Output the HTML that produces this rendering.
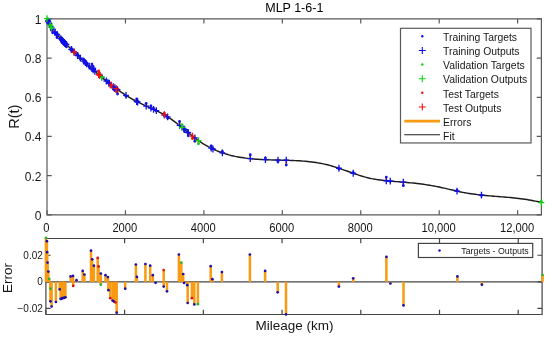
<!DOCTYPE html>
<html><head><meta charset="utf-8"><style>
html,body{margin:0;padding:0;background:#fff;overflow:hidden}
svg{display:block;filter:blur(0.3px)}
text{font-family:"Liberation Sans",sans-serif}
</style></head><body>
<svg width="550" height="337" viewBox="0 0 550 337">
<rect width="550" height="337" fill="#fff"/>
<path d="M47.0,214.85H541.4V18.9H47.0Z" fill="#fff" stroke="#5a5a5a" stroke-width="1.2"/>
<path d="M47.00,214.85v-4.7M47.00,18.9v4.7M125.44,214.85v-4.7M125.44,18.9v4.7M203.88,214.85v-4.7M203.88,18.9v4.7M282.32,214.85v-4.7M282.32,18.9v4.7M360.76,214.85v-4.7M360.76,18.9v4.7M439.20,214.85v-4.7M439.20,18.9v4.7M517.64,214.85v-4.7M517.64,18.9v4.7M47.0,214.85h4.7M541.4,214.85h-4.7M47.0,175.66h4.7M541.4,175.66h-4.7M47.0,136.47h4.7M541.4,136.47h-4.7M47.0,97.28h4.7M541.4,97.28h-4.7M47.0,58.09h4.7M541.4,58.09h-4.7M47.0,18.90h4.7M541.4,18.90h-4.7" stroke="#5a5a5a" stroke-width="1.2" fill="none"/>
<path d="M47.00,18.69 L49.07,23.10 L51.14,26.78 L53.21,29.89 L55.27,32.56 L57.34,34.94 L59.41,37.19 L61.48,39.39 L63.55,41.55 L65.62,43.67 L67.69,45.76 L69.75,47.82 L71.82,49.86 L73.89,51.87 L75.96,53.86 L78.03,55.83 L80.10,57.78 L82.17,59.72 L84.24,61.65 L86.30,63.56 L88.37,65.45 L90.44,67.33 L92.51,69.18 L94.58,71.02 L96.65,72.83 L98.72,74.61 L100.78,76.38 L102.85,78.11 L104.92,79.82 L106.99,81.49 L109.06,83.14 L111.13,84.76 L113.20,86.34 L115.26,87.88 L117.33,89.39 L119.40,90.86 L121.47,92.30 L123.54,93.69 L125.61,95.04 L127.68,96.35 L129.74,97.61 L131.81,98.83 L133.88,100.00 L135.95,101.12 L138.02,102.19 L140.09,103.22 L142.16,104.21 L144.23,105.16 L146.29,106.10 L148.36,107.03 L150.43,107.96 L152.50,108.89 L154.57,109.84 L156.64,110.81 L158.71,111.82 L160.77,112.87 L162.84,113.97 L164.91,115.14 L166.98,116.37 L169.05,117.68 L171.12,119.08 L173.19,120.55 L175.25,122.10 L177.32,123.71 L179.39,125.36 L181.46,127.04 L183.53,128.75 L185.60,130.46 L187.67,132.17 L189.73,133.87 L191.80,135.53 L193.87,137.16 L195.94,138.73 L198.01,140.24 L200.08,141.68 L202.15,143.04 L204.22,144.33 L206.28,145.54 L208.35,146.69 L210.42,147.78 L212.49,148.79 L214.56,149.75 L216.63,150.65 L218.70,151.49 L220.76,152.27 L222.83,153.00 L224.90,153.68 L226.97,154.31 L229.04,154.90 L231.11,155.44 L233.18,155.93 L235.24,156.39 L237.31,156.80 L239.38,157.18 L241.45,157.53 L243.52,157.84 L245.59,158.12 L247.66,158.38 L249.72,158.61 L251.79,158.81 L253.86,158.99 L255.93,159.16 L258.00,159.30 L260.07,159.43 L262.14,159.54 L264.21,159.64 L266.27,159.72 L268.34,159.80 L270.41,159.86 L272.48,159.93 L274.55,159.98 L276.62,160.03 L278.69,160.08 L280.75,160.13 L282.82,160.18 L284.89,160.23 L286.96,160.29 L289.03,160.36 L291.10,160.43 L293.17,160.51 L295.23,160.61 L297.30,160.72 L299.37,160.84 L301.44,160.98 L303.51,161.14 L305.58,161.31 L307.65,161.51 L309.71,161.74 L311.78,161.98 L313.85,162.26 L315.92,162.56 L317.99,162.89 L320.06,163.26 L322.13,163.66 L324.19,164.09 L326.26,164.56 L328.33,165.07 L330.40,165.62 L332.47,166.21 L334.54,166.84 L336.61,167.49 L338.68,168.17 L340.74,168.87 L342.81,169.59 L344.88,170.32 L346.95,171.05 L349.02,171.78 L351.09,172.52 L353.16,173.24 L355.22,173.95 L357.29,174.65 L359.36,175.32 L361.43,175.97 L363.50,176.59 L365.57,177.17 L367.64,177.70 L369.70,178.20 L371.77,178.65 L373.84,179.05 L375.91,179.41 L377.98,179.73 L380.05,180.02 L382.12,180.28 L384.18,180.51 L386.25,180.73 L388.32,180.92 L390.39,181.11 L392.46,181.28 L394.53,181.45 L396.60,181.62 L398.67,181.79 L400.73,181.96 L402.80,182.13 L404.87,182.31 L406.94,182.49 L409.01,182.68 L411.08,182.88 L413.15,183.09 L415.21,183.31 L417.28,183.54 L419.35,183.78 L421.42,184.04 L423.49,184.32 L425.56,184.61 L427.63,184.92 L429.69,185.25 L431.76,185.61 L433.83,185.98 L435.90,186.38 L437.97,186.80 L440.04,187.24 L442.11,187.69 L444.17,188.16 L446.24,188.64 L448.31,189.12 L450.38,189.60 L452.45,190.08 L454.52,190.56 L456.59,191.03 L458.66,191.48 L460.72,191.92 L462.79,192.34 L464.86,192.73 L466.93,193.10 L469.00,193.45 L471.07,193.77 L473.14,194.07 L475.20,194.34 L477.27,194.60 L479.34,194.85 L481.41,195.07 L483.48,195.29 L485.55,195.49 L487.62,195.68 L489.68,195.86 L491.75,196.04 L493.82,196.21 L495.89,196.38 L497.96,196.54 L500.03,196.71 L502.10,196.87 L504.16,197.04 L506.23,197.22 L508.30,197.40 L510.37,197.58 L512.44,197.78 L514.51,197.99 L516.58,198.22 L518.65,198.45 L520.71,198.71 L522.78,198.98 L524.85,199.27 L526.92,199.59 L528.99,199.92 L531.06,200.29 L533.13,200.68 L535.19,201.09 L537.26,201.54 L539.33,202.02 L541.40,202.53" fill="none" stroke="#1c1c1c" stroke-width="1.45"/>
<defs><clipPath id="ct"><rect x="47.0" y="18.9" width="494.4" height="195.95"/></clipPath><clipPath id="cb"><rect x="45.9" y="238.5" width="496.20000000000005" height="76.0"/></clipPath></defs>
<g clip-path="url(#ct)">
<line x1="47.00" y1="18.69" x2="47.00" y2="12.22" stroke="#f89a12" stroke-width="2"/>
<line x1="48.00" y1="20.91" x2="48.00" y2="14.93" stroke="#f89a12" stroke-width="2"/>
<line x1="48.20" y1="21.34" x2="48.20" y2="16.97" stroke="#f89a12" stroke-width="2"/>
<line x1="48.69" y1="22.36" x2="48.69" y2="19.52" stroke="#f89a12" stroke-width="2"/>
<line x1="49.39" y1="23.72" x2="49.39" y2="22.21" stroke="#f89a12" stroke-width="2"/>
<line x1="50.29" y1="25.35" x2="50.29" y2="24.90" stroke="#f89a12" stroke-width="2"/>
<line x1="51.48" y1="27.34" x2="51.48" y2="28.35" stroke="#f89a12" stroke-width="2"/>
<line x1="51.48" y1="27.34" x2="51.48" y2="30.20" stroke="#f89a12" stroke-width="2"/>
<line x1="52.68" y1="29.14" x2="52.68" y2="32.77" stroke="#f89a12" stroke-width="2"/>
<line x1="56.96" y1="34.52" x2="56.96" y2="37.49" stroke="#f89a12" stroke-width="2"/>
<line x1="60.75" y1="38.62" x2="60.75" y2="39.73" stroke="#f89a12" stroke-width="2"/>
<line x1="61.65" y1="39.56" x2="61.65" y2="42.09" stroke="#f89a12" stroke-width="2"/>
<line x1="62.44" y1="40.40" x2="62.44" y2="42.88" stroke="#f89a12" stroke-width="2"/>
<line x1="63.34" y1="41.33" x2="63.34" y2="43.74" stroke="#f89a12" stroke-width="2"/>
<line x1="64.34" y1="42.36" x2="64.34" y2="44.74" stroke="#f89a12" stroke-width="2"/>
<line x1="65.23" y1="43.28" x2="65.23" y2="45.63" stroke="#f89a12" stroke-width="2"/>
<line x1="66.43" y1="44.50" x2="66.43" y2="46.77" stroke="#f89a12" stroke-width="2"/>
<line x1="71.61" y1="49.65" x2="71.61" y2="48.85" stroke="#f89a12" stroke-width="2"/>
<line x1="74.00" y1="51.98" x2="74.00" y2="51.10" stroke="#f89a12" stroke-width="2"/>
<line x1="74.20" y1="52.17" x2="74.20" y2="52.76" stroke="#f89a12" stroke-width="2"/>
<line x1="77.49" y1="55.32" x2="77.49" y2="55.07" stroke="#f89a12" stroke-width="2"/>
<line x1="83.67" y1="61.12" x2="83.67" y2="59.51" stroke="#f89a12" stroke-width="2"/>
<line x1="85.36" y1="62.69" x2="85.36" y2="61.61" stroke="#f89a12" stroke-width="2"/>
<line x1="91.94" y1="68.67" x2="91.94" y2="64.08" stroke="#f89a12" stroke-width="2"/>
<line x1="93.14" y1="69.74" x2="93.14" y2="66.42" stroke="#f89a12" stroke-width="2"/>
<line x1="94.83" y1="71.24" x2="94.83" y2="68.86" stroke="#f89a12" stroke-width="2"/>
<line x1="98.62" y1="74.53" x2="98.62" y2="71.00" stroke="#f89a12" stroke-width="2"/>
<line x1="99.51" y1="75.30" x2="99.51" y2="73.02" stroke="#f89a12" stroke-width="2"/>
<line x1="101.70" y1="77.15" x2="101.70" y2="75.92" stroke="#f89a12" stroke-width="2"/>
<line x1="101.70" y1="77.15" x2="101.70" y2="77.57" stroke="#f89a12" stroke-width="2"/>
<line x1="106.39" y1="81.01" x2="106.39" y2="80.03" stroke="#f89a12" stroke-width="2"/>
<line x1="108.78" y1="82.92" x2="108.78" y2="82.22" stroke="#f89a12" stroke-width="2"/>
<line x1="109.28" y1="83.31" x2="109.28" y2="84.54" stroke="#f89a12" stroke-width="2"/>
<line x1="111.17" y1="84.79" x2="111.17" y2="87.20" stroke="#f89a12" stroke-width="2"/>
<line x1="113.46" y1="86.54" x2="113.46" y2="89.30" stroke="#f89a12" stroke-width="2"/>
<line x1="114.86" y1="87.58" x2="114.86" y2="90.49" stroke="#f89a12" stroke-width="2"/>
<line x1="116.35" y1="88.68" x2="116.35" y2="91.72" stroke="#f89a12" stroke-width="2"/>
<line x1="117.55" y1="89.55" x2="117.55" y2="94.09" stroke="#f89a12" stroke-width="2"/>
<line x1="126.02" y1="95.30" x2="126.02" y2="96.31" stroke="#f89a12" stroke-width="2"/>
<line x1="136.68" y1="101.50" x2="136.68" y2="98.95" stroke="#f89a12" stroke-width="2"/>
<line x1="137.68" y1="102.02" x2="137.68" y2="101.29" stroke="#f89a12" stroke-width="2"/>
<line x1="146.15" y1="106.04" x2="146.15" y2="103.41" stroke="#f89a12" stroke-width="2"/>
<line x1="150.93" y1="108.18" x2="150.93" y2="105.80" stroke="#f89a12" stroke-width="2"/>
<line x1="153.52" y1="109.36" x2="153.52" y2="108.38" stroke="#f89a12" stroke-width="2"/>
<line x1="156.31" y1="110.66" x2="156.31" y2="110.80" stroke="#f89a12" stroke-width="2"/>
<line x1="164.38" y1="114.83" x2="164.38" y2="113.09" stroke="#f89a12" stroke-width="2"/>
<line x1="164.38" y1="114.83" x2="164.38" y2="115.53" stroke="#f89a12" stroke-width="2"/>
<line x1="167.67" y1="116.80" x2="167.67" y2="118.19" stroke="#f89a12" stroke-width="2"/>
<line x1="179.53" y1="125.47" x2="179.53" y2="121.44" stroke="#f89a12" stroke-width="2"/>
<line x1="181.92" y1="127.42" x2="181.92" y2="124.58" stroke="#f89a12" stroke-width="2"/>
<line x1="183.81" y1="128.98" x2="183.81" y2="127.83" stroke="#f89a12" stroke-width="2"/>
<line x1="184.71" y1="129.72" x2="184.71" y2="129.89" stroke="#f89a12" stroke-width="2"/>
<line x1="187.80" y1="132.28" x2="187.80" y2="132.77" stroke="#f89a12" stroke-width="2"/>
<line x1="188.30" y1="132.69" x2="188.30" y2="135.81" stroke="#f89a12" stroke-width="2"/>
<line x1="192.48" y1="136.07" x2="192.48" y2="138.48" stroke="#f89a12" stroke-width="2"/>
<line x1="194.87" y1="137.93" x2="194.87" y2="141.25" stroke="#f89a12" stroke-width="2"/>
<line x1="198.46" y1="140.56" x2="198.46" y2="143.85" stroke="#f89a12" stroke-width="2"/>
<line x1="211.21" y1="148.17" x2="211.21" y2="145.87" stroke="#f89a12" stroke-width="2"/>
<line x1="212.91" y1="148.99" x2="212.91" y2="148.60" stroke="#f89a12" stroke-width="2"/>
<line x1="222.37" y1="152.85" x2="222.37" y2="151.41" stroke="#f89a12" stroke-width="2"/>
<line x1="250.27" y1="158.66" x2="250.27" y2="154.63" stroke="#f89a12" stroke-width="2"/>
<line x1="265.42" y1="159.69" x2="265.42" y2="158.07" stroke="#f89a12" stroke-width="2"/>
<line x1="277.98" y1="160.06" x2="277.98" y2="161.60" stroke="#f89a12" stroke-width="2"/>
<line x1="286.25" y1="160.27" x2="286.25" y2="165.07" stroke="#f89a12" stroke-width="2"/>
<line x1="338.96" y1="168.27" x2="338.96" y2="168.97" stroke="#f89a12" stroke-width="2"/>
<line x1="353.21" y1="173.26" x2="353.21" y2="172.74" stroke="#f89a12" stroke-width="2"/>
<line x1="386.29" y1="180.73" x2="386.29" y2="177.06" stroke="#f89a12" stroke-width="2"/>
<line x1="390.27" y1="181.10" x2="390.27" y2="181.34" stroke="#f89a12" stroke-width="2"/>
<line x1="403.33" y1="182.18" x2="403.33" y2="185.64" stroke="#f89a12" stroke-width="2"/>
<line x1="457.04" y1="191.13" x2="457.04" y2="190.32" stroke="#f89a12" stroke-width="2"/>
<line x1="481.45" y1="195.08" x2="481.45" y2="195.50" stroke="#f89a12" stroke-width="2"/>
<line x1="541.40" y1="202.53" x2="541.40" y2="201.52" stroke="#f89a12" stroke-width="2"/>
<line x1="55.20" y1="32.47" x2="55.20" y2="33.47" stroke="#f89a12" stroke-width="2"/>
<line x1="57.30" y1="34.89" x2="57.30" y2="33.89" stroke="#f89a12" stroke-width="2"/>
<line x1="71.30" y1="49.35" x2="71.30" y2="50.15" stroke="#f89a12" stroke-width="2"/>
<line x1="77.80" y1="55.61" x2="77.80" y2="54.81" stroke="#f89a12" stroke-width="2"/>
<line x1="80.40" y1="58.07" x2="80.40" y2="59.07" stroke="#f89a12" stroke-width="2"/>
<line x1="86.60" y1="63.83" x2="86.60" y2="63.23" stroke="#f89a12" stroke-width="2"/>
<line x1="89.20" y1="66.20" x2="89.20" y2="67.00" stroke="#f89a12" stroke-width="2"/>
</g>
<circle cx="48.69" cy="19.52" r="1.4" fill="#1010e8"/>
<circle cx="49.39" cy="22.21" r="1.4" fill="#1010e8"/>
<circle cx="51.48" cy="30.20" r="1.4" fill="#1010e8"/>
<circle cx="52.68" cy="32.77" r="1.4" fill="#1010e8"/>
<circle cx="56.96" cy="37.49" r="1.4" fill="#1010e8"/>
<circle cx="60.75" cy="39.73" r="1.4" fill="#1010e8"/>
<circle cx="61.65" cy="42.09" r="1.4" fill="#1010e8"/>
<circle cx="62.44" cy="42.88" r="1.4" fill="#1010e8"/>
<circle cx="63.34" cy="43.74" r="1.4" fill="#1010e8"/>
<circle cx="64.34" cy="44.74" r="1.4" fill="#1010e8"/>
<circle cx="65.23" cy="45.63" r="1.4" fill="#1010e8"/>
<circle cx="66.43" cy="46.77" r="1.4" fill="#1010e8"/>
<circle cx="71.61" cy="48.85" r="1.4" fill="#1010e8"/>
<circle cx="74.00" cy="51.10" r="1.4" fill="#1010e8"/>
<circle cx="77.49" cy="55.07" r="1.4" fill="#1010e8"/>
<circle cx="83.67" cy="59.51" r="1.4" fill="#1010e8"/>
<circle cx="85.36" cy="61.61" r="1.4" fill="#1010e8"/>
<circle cx="91.94" cy="64.08" r="1.4" fill="#1010e8"/>
<circle cx="93.14" cy="66.42" r="1.4" fill="#1010e8"/>
<circle cx="94.83" cy="68.86" r="1.4" fill="#1010e8"/>
<circle cx="101.70" cy="75.92" r="1.4" fill="#1010e8"/>
<circle cx="106.39" cy="80.03" r="1.4" fill="#1010e8"/>
<circle cx="108.78" cy="82.22" r="1.4" fill="#1010e8"/>
<circle cx="109.28" cy="84.54" r="1.4" fill="#1010e8"/>
<circle cx="113.46" cy="89.30" r="1.4" fill="#1010e8"/>
<circle cx="114.86" cy="90.49" r="1.4" fill="#1010e8"/>
<circle cx="117.55" cy="94.09" r="1.4" fill="#1010e8"/>
<circle cx="126.02" cy="96.31" r="1.4" fill="#1010e8"/>
<circle cx="136.68" cy="98.95" r="1.4" fill="#1010e8"/>
<circle cx="137.68" cy="101.29" r="1.4" fill="#1010e8"/>
<circle cx="146.15" cy="103.41" r="1.4" fill="#1010e8"/>
<circle cx="150.93" cy="105.80" r="1.4" fill="#1010e8"/>
<circle cx="153.52" cy="108.38" r="1.4" fill="#1010e8"/>
<circle cx="156.31" cy="110.80" r="1.4" fill="#1010e8"/>
<circle cx="164.38" cy="115.53" r="1.4" fill="#1010e8"/>
<circle cx="167.67" cy="118.19" r="1.4" fill="#1010e8"/>
<circle cx="179.53" cy="121.44" r="1.4" fill="#1010e8"/>
<circle cx="183.81" cy="127.83" r="1.4" fill="#1010e8"/>
<circle cx="184.71" cy="129.89" r="1.4" fill="#1010e8"/>
<circle cx="187.80" cy="132.77" r="1.4" fill="#1010e8"/>
<circle cx="188.30" cy="135.81" r="1.4" fill="#1010e8"/>
<circle cx="194.87" cy="141.25" r="1.4" fill="#1010e8"/>
<circle cx="211.21" cy="145.87" r="1.4" fill="#1010e8"/>
<circle cx="212.91" cy="148.60" r="1.4" fill="#1010e8"/>
<circle cx="222.37" cy="151.41" r="1.4" fill="#1010e8"/>
<circle cx="250.27" cy="154.63" r="1.4" fill="#1010e8"/>
<circle cx="265.42" cy="158.07" r="1.4" fill="#1010e8"/>
<circle cx="277.98" cy="161.60" r="1.4" fill="#1010e8"/>
<circle cx="286.25" cy="165.07" r="1.4" fill="#1010e8"/>
<circle cx="338.96" cy="168.97" r="1.4" fill="#1010e8"/>
<circle cx="353.21" cy="172.74" r="1.4" fill="#1010e8"/>
<circle cx="386.29" cy="177.06" r="1.4" fill="#1010e8"/>
<circle cx="390.27" cy="181.34" r="1.4" fill="#1010e8"/>
<circle cx="403.33" cy="185.64" r="1.4" fill="#1010e8"/>
<circle cx="457.04" cy="190.32" r="1.4" fill="#1010e8"/>
<circle cx="481.45" cy="195.50" r="1.4" fill="#1010e8"/>
<circle cx="55.20" cy="33.47" r="1.4" fill="#1010e8"/>
<circle cx="57.30" cy="33.89" r="1.4" fill="#1010e8"/>
<circle cx="71.30" cy="50.15" r="1.4" fill="#1010e8"/>
<circle cx="77.80" cy="54.81" r="1.4" fill="#1010e8"/>
<circle cx="80.40" cy="59.07" r="1.4" fill="#1010e8"/>
<circle cx="86.60" cy="63.23" r="1.4" fill="#1010e8"/>
<circle cx="89.20" cy="67.00" r="1.4" fill="#1010e8"/>
<path d="M45.10,20.91H50.90M48.00,17.51V24.31" stroke="#1010e8" stroke-width="1.3"/>
<path d="M45.30,21.34H51.10M48.20,17.94V24.74" stroke="#1010e8" stroke-width="1.3"/>
<path d="M45.79,22.36H51.59M48.69,18.96V25.76" stroke="#1010e8" stroke-width="1.3"/>
<path d="M46.49,23.72H52.29M49.39,20.32V27.12" stroke="#1010e8" stroke-width="1.3"/>
<path d="M48.58,27.34H54.38M51.48,23.94V30.74" stroke="#1010e8" stroke-width="1.3"/>
<path d="M49.78,29.14H55.58M52.68,25.74V32.54" stroke="#1010e8" stroke-width="1.3"/>
<path d="M54.06,34.52H59.86M56.96,31.12V37.92" stroke="#1010e8" stroke-width="1.3"/>
<path d="M57.85,38.62H63.65M60.75,35.22V42.02" stroke="#1010e8" stroke-width="1.3"/>
<path d="M58.75,39.56H64.55M61.65,36.16V42.96" stroke="#1010e8" stroke-width="1.3"/>
<path d="M59.54,40.40H65.34M62.44,37.00V43.80" stroke="#1010e8" stroke-width="1.3"/>
<path d="M60.44,41.33H66.24M63.34,37.93V44.73" stroke="#1010e8" stroke-width="1.3"/>
<path d="M61.44,42.36H67.24M64.34,38.96V45.76" stroke="#1010e8" stroke-width="1.3"/>
<path d="M62.33,43.28H68.13M65.23,39.88V46.68" stroke="#1010e8" stroke-width="1.3"/>
<path d="M63.53,44.50H69.33M66.43,41.10V47.90" stroke="#1010e8" stroke-width="1.3"/>
<path d="M68.71,49.65H74.51M71.61,46.25V53.05" stroke="#1010e8" stroke-width="1.3"/>
<path d="M71.10,51.98H76.90M74.00,48.58V55.38" stroke="#1010e8" stroke-width="1.3"/>
<path d="M74.59,55.32H80.39M77.49,51.92V58.72" stroke="#1010e8" stroke-width="1.3"/>
<path d="M80.77,61.12H86.57M83.67,57.72V64.52" stroke="#1010e8" stroke-width="1.3"/>
<path d="M82.46,62.69H88.26M85.36,59.29V66.09" stroke="#1010e8" stroke-width="1.3"/>
<path d="M89.04,68.67H94.84M91.94,65.27V72.07" stroke="#1010e8" stroke-width="1.3"/>
<path d="M90.24,69.74H96.04M93.14,66.34V73.14" stroke="#1010e8" stroke-width="1.3"/>
<path d="M91.93,71.24H97.73M94.83,67.84V74.64" stroke="#1010e8" stroke-width="1.3"/>
<path d="M98.80,77.15H104.60M101.70,73.75V80.55" stroke="#1010e8" stroke-width="1.3"/>
<path d="M103.49,81.01H109.29M106.39,77.61V84.41" stroke="#1010e8" stroke-width="1.3"/>
<path d="M105.88,82.92H111.68M108.78,79.52V86.32" stroke="#1010e8" stroke-width="1.3"/>
<path d="M106.38,83.31H112.18M109.28,79.91V86.71" stroke="#1010e8" stroke-width="1.3"/>
<path d="M110.56,86.54H116.36M113.46,83.14V89.94" stroke="#1010e8" stroke-width="1.3"/>
<path d="M111.96,87.58H117.76M114.86,84.18V90.98" stroke="#1010e8" stroke-width="1.3"/>
<path d="M114.65,89.55H120.45M117.55,86.15V92.95" stroke="#1010e8" stroke-width="1.3"/>
<path d="M123.12,95.30H128.92M126.02,91.90V98.70" stroke="#1010e8" stroke-width="1.3"/>
<path d="M133.78,101.50H139.58M136.68,98.10V104.90" stroke="#1010e8" stroke-width="1.3"/>
<path d="M134.78,102.02H140.58M137.68,98.62V105.42" stroke="#1010e8" stroke-width="1.3"/>
<path d="M143.25,106.04H149.05M146.15,102.64V109.44" stroke="#1010e8" stroke-width="1.3"/>
<path d="M148.03,108.18H153.83M150.93,104.78V111.58" stroke="#1010e8" stroke-width="1.3"/>
<path d="M150.62,109.36H156.42M153.52,105.96V112.76" stroke="#1010e8" stroke-width="1.3"/>
<path d="M153.41,110.66H159.21M156.31,107.26V114.06" stroke="#1010e8" stroke-width="1.3"/>
<path d="M161.48,114.83H167.28M164.38,111.43V118.23" stroke="#1010e8" stroke-width="1.3"/>
<path d="M164.77,116.80H170.57M167.67,113.40V120.20" stroke="#1010e8" stroke-width="1.3"/>
<path d="M176.63,125.47H182.43M179.53,122.07V128.87" stroke="#1010e8" stroke-width="1.3"/>
<path d="M180.91,128.98H186.71M183.81,125.58V132.38" stroke="#1010e8" stroke-width="1.3"/>
<path d="M181.81,129.72H187.61M184.71,126.32V133.12" stroke="#1010e8" stroke-width="1.3"/>
<path d="M184.90,132.28H190.70M187.80,128.88V135.68" stroke="#1010e8" stroke-width="1.3"/>
<path d="M185.40,132.69H191.20M188.30,129.29V136.09" stroke="#1010e8" stroke-width="1.3"/>
<path d="M191.97,137.93H197.77M194.87,134.53V141.33" stroke="#1010e8" stroke-width="1.3"/>
<path d="M208.31,148.17H214.11M211.21,144.77V151.57" stroke="#1010e8" stroke-width="1.3"/>
<path d="M210.01,148.99H215.81M212.91,145.59V152.39" stroke="#1010e8" stroke-width="1.3"/>
<path d="M219.47,152.85H225.27M222.37,149.45V156.25" stroke="#1010e8" stroke-width="1.3"/>
<path d="M247.37,158.66H253.17M250.27,155.26V162.06" stroke="#1010e8" stroke-width="1.3"/>
<path d="M262.52,159.69H268.32M265.42,156.29V163.09" stroke="#1010e8" stroke-width="1.3"/>
<path d="M275.08,160.06H280.88M277.98,156.66V163.46" stroke="#1010e8" stroke-width="1.3"/>
<path d="M283.35,160.27H289.15M286.25,156.87V163.67" stroke="#1010e8" stroke-width="1.3"/>
<path d="M336.06,168.27H341.86M338.96,164.87V171.67" stroke="#1010e8" stroke-width="1.3"/>
<path d="M350.31,173.26H356.11M353.21,169.86V176.66" stroke="#1010e8" stroke-width="1.3"/>
<path d="M383.39,180.73H389.19M386.29,177.33V184.13" stroke="#1010e8" stroke-width="1.3"/>
<path d="M387.37,181.10H393.17M390.27,177.70V184.50" stroke="#1010e8" stroke-width="1.3"/>
<path d="M400.43,182.18H406.23M403.33,178.78V185.58" stroke="#1010e8" stroke-width="1.3"/>
<path d="M454.14,191.13H459.94M457.04,187.73V194.53" stroke="#1010e8" stroke-width="1.3"/>
<path d="M478.55,195.08H484.35M481.45,191.68V198.48" stroke="#1010e8" stroke-width="1.3"/>
<path d="M52.30,32.47H58.10M55.20,29.07V35.87" stroke="#1010e8" stroke-width="1.3"/>
<path d="M54.40,34.89H60.20M57.30,31.49V38.29" stroke="#1010e8" stroke-width="1.3"/>
<path d="M68.40,49.35H74.20M71.30,45.95V52.75" stroke="#1010e8" stroke-width="1.3"/>
<path d="M74.90,55.61H80.70M77.80,52.21V59.01" stroke="#1010e8" stroke-width="1.3"/>
<path d="M77.50,58.07H83.30M80.40,54.67V61.47" stroke="#1010e8" stroke-width="1.3"/>
<path d="M83.70,63.83H89.50M86.60,60.43V67.23" stroke="#1010e8" stroke-width="1.3"/>
<path d="M86.30,66.20H92.10M89.20,62.80V69.60" stroke="#1010e8" stroke-width="1.3"/>
<circle cx="50.29" cy="24.90" r="1.4" fill="#10d010"/>
<circle cx="51.48" cy="28.35" r="1.4" fill="#10d010"/>
<circle cx="101.70" cy="77.57" r="1.4" fill="#10d010"/>
<circle cx="181.92" cy="124.58" r="1.4" fill="#10d010"/>
<circle cx="198.46" cy="143.85" r="1.4" fill="#10d010"/>
<circle cx="541.40" cy="201.52" r="1.4" fill="#10d010"/>
<path d="M44.10,18.69H49.90M47.00,15.29V22.09" stroke="#10d010" stroke-width="1.3"/>
<path d="M47.39,25.35H53.19M50.29,21.95V28.75" stroke="#10d010" stroke-width="1.3"/>
<path d="M48.58,27.34H54.38M51.48,23.94V30.74" stroke="#10d010" stroke-width="1.3"/>
<path d="M98.80,77.15H104.60M101.70,73.75V80.55" stroke="#10d010" stroke-width="1.3"/>
<path d="M179.02,127.42H184.82M181.92,124.02V130.82" stroke="#10d010" stroke-width="1.3"/>
<path d="M195.56,140.56H201.36M198.46,137.16V143.96" stroke="#10d010" stroke-width="1.3"/>
<path d="M538.50,202.53H544.30M541.40,199.13V205.93" stroke="#10d010" stroke-width="1.3"/>
<circle cx="74.20" cy="52.76" r="1.4" fill="#f01010"/>
<circle cx="98.62" cy="71.00" r="1.4" fill="#f01010"/>
<circle cx="99.51" cy="73.02" r="1.4" fill="#f01010"/>
<circle cx="111.17" cy="87.20" r="1.4" fill="#f01010"/>
<circle cx="116.35" cy="91.72" r="1.4" fill="#f01010"/>
<circle cx="164.38" cy="113.09" r="1.4" fill="#f01010"/>
<circle cx="192.48" cy="138.48" r="1.4" fill="#f01010"/>
<path d="M71.30,52.17H77.10M74.20,48.77V55.57" stroke="#f01010" stroke-width="1.3"/>
<path d="M95.72,74.53H101.52M98.62,71.13V77.93" stroke="#f01010" stroke-width="1.3"/>
<path d="M96.61,75.30H102.41M99.51,71.90V78.70" stroke="#f01010" stroke-width="1.3"/>
<path d="M108.27,84.79H114.07M111.17,81.39V88.19" stroke="#f01010" stroke-width="1.3"/>
<path d="M113.45,88.68H119.25M116.35,85.28V92.08" stroke="#f01010" stroke-width="1.3"/>
<path d="M161.48,114.83H167.28M164.38,111.43V118.23" stroke="#f01010" stroke-width="1.3"/>
<path d="M189.58,136.07H195.38M192.48,132.67V139.47" stroke="#f01010" stroke-width="1.3"/>
<text transform="translate(46.40,231.9) scale(1,1.09)" text-anchor="middle"  font-size="11.2" fill="#161616">0</text>
<text transform="translate(124.84,231.9) scale(1,1.09)" text-anchor="middle"  font-size="11.2" fill="#161616">2000</text>
<text transform="translate(203.28,231.9) scale(1,1.09)" text-anchor="middle"  font-size="11.2" fill="#161616">4000</text>
<text transform="translate(281.72,231.9) scale(1,1.09)" text-anchor="middle"  font-size="11.2" fill="#161616">6000</text>
<text transform="translate(360.16,231.9) scale(1,1.09)" text-anchor="middle"  font-size="11.2" fill="#161616">8000</text>
<text transform="translate(438.60,231.9) scale(1,1.09)" text-anchor="middle"  font-size="11.2" fill="#161616">10,000</text>
<text transform="translate(517.04,231.9) scale(1,1.09)" text-anchor="middle"  font-size="11.2" fill="#161616">12,000</text>
<text x="41.5" y="220.15" text-anchor="end"  font-size="12" fill="#161616">0</text>
<text x="41.5" y="180.66" text-anchor="end"  font-size="12" fill="#161616">0.2</text>
<text x="41.5" y="141.47" text-anchor="end"  font-size="12" fill="#161616">0.4</text>
<text x="41.5" y="102.28" text-anchor="end"  font-size="12" fill="#161616">0.6</text>
<text x="41.5" y="63.09" text-anchor="end"  font-size="12" fill="#161616">0.8</text>
<text x="41.5" y="23.90" text-anchor="end"  font-size="12" fill="#161616">1</text>
<text x="294.3" y="12.4" text-anchor="middle"  font-size="12.5" fill="#000">MLP 1-6-1</text>
<text transform="translate(18.9,116.7) rotate(-90)" text-anchor="middle"  font-size="14.6" fill="#161616">R(t)</text>
<rect x="400.5" y="28.3" width="130.5" height="114.64999999999999" fill="#fff" stroke="#5a5a5a" stroke-width="1.2"/>
<text x="443.1" y="41.00"  font-size="10.4" fill="#161616">Training Targets</text>
<circle cx="422.3" cy="36.30" r="1.2" fill="#1010e8"/>
<text x="443.1" y="55.13"  font-size="10.4" fill="#161616">Training Outputs</text>
<path d="M418.8,50.43h7M422.3,46.93v7" stroke="#1010e8" stroke-width="1.1"/>
<text x="443.1" y="69.26"  font-size="10.4" fill="#161616">Validation Targets</text>
<circle cx="422.3" cy="64.56" r="1.2" fill="#10d010"/>
<text x="443.1" y="83.39"  font-size="10.4" fill="#161616">Validation Outputs</text>
<path d="M418.8,78.69h7M422.3,75.19v7" stroke="#10d010" stroke-width="1.1"/>
<text x="443.1" y="97.52"  font-size="10.4" fill="#161616">Test Targets</text>
<circle cx="422.3" cy="92.82" r="1.2" fill="#f01010"/>
<text x="443.1" y="111.65"  font-size="10.4" fill="#161616">Test Outputs</text>
<path d="M418.8,106.95h7M422.3,103.45v7" stroke="#f01010" stroke-width="1.1"/>
<text x="443.1" y="125.78"  font-size="10.4" fill="#161616">Errors</text>
<line x1="404.3" x2="440" y1="121.08" y2="121.08" stroke="#f89a12" stroke-width="2.7"/>
<text x="443.1" y="139.91"  font-size="10.4" fill="#161616">Fit</text>
<line x1="404.3" x2="440" y1="134.71" y2="134.71" stroke="#1e1e1e" stroke-width="1.15"/>
<path d="M45.9,314.5H542.1V238.5H45.9Z" fill="#fff" stroke="#444" stroke-width="1.2"/>
<path d="M45.90,314.5v-4.7M45.90,238.5v4.7M124.62,314.5v-4.7M124.62,238.5v4.7M203.34,314.5v-4.7M203.34,238.5v4.7M282.06,314.5v-4.7M282.06,238.5v4.7M360.78,314.5v-4.7M360.78,238.5v4.7M439.50,314.5v-4.7M439.50,238.5v4.7M518.22,314.5v-4.7M518.22,238.5v4.7M45.9,308.45h4.7M542.1,308.45h-4.7M45.9,281.85h4.7M542.1,281.85h-4.7M45.9,255.25h4.7M542.1,255.25h-4.7" stroke="#444" stroke-width="1.2" fill="none"/>
<line x1="45.9" x2="542.1" y1="281.85" y2="281.85" stroke="#444" stroke-width="1.2"/>
<line x1="45.90" y1="281.85" x2="45.90" y2="237.90" stroke="#f89a12" stroke-width="2.5"/>
<line x1="46.90" y1="281.85" x2="46.90" y2="241.20" stroke="#f89a12" stroke-width="2.5"/>
<line x1="47.10" y1="281.85" x2="47.10" y2="252.20" stroke="#f89a12" stroke-width="2.5"/>
<line x1="47.60" y1="281.85" x2="47.60" y2="262.60" stroke="#f89a12" stroke-width="2.5"/>
<line x1="48.30" y1="281.85" x2="48.30" y2="271.60" stroke="#f89a12" stroke-width="2.5"/>
<line x1="49.20" y1="281.85" x2="49.20" y2="278.80" stroke="#f89a12" stroke-width="2.5"/>
<line x1="50.40" y1="281.85" x2="50.40" y2="288.70" stroke="#f89a12" stroke-width="2.5"/>
<line x1="50.40" y1="281.85" x2="50.40" y2="301.30" stroke="#f89a12" stroke-width="2.5"/>
<line x1="51.60" y1="281.85" x2="51.60" y2="306.50" stroke="#f89a12" stroke-width="2.5"/>
<line x1="55.90" y1="281.85" x2="55.90" y2="302.00" stroke="#f89a12" stroke-width="2.5"/>
<line x1="59.70" y1="281.85" x2="59.70" y2="289.40" stroke="#f89a12" stroke-width="2.5"/>
<line x1="60.60" y1="281.85" x2="60.60" y2="299.00" stroke="#f89a12" stroke-width="2.5"/>
<line x1="61.40" y1="281.85" x2="61.40" y2="298.70" stroke="#f89a12" stroke-width="2.5"/>
<line x1="62.30" y1="281.85" x2="62.30" y2="298.20" stroke="#f89a12" stroke-width="2.5"/>
<line x1="63.30" y1="281.85" x2="63.30" y2="298.00" stroke="#f89a12" stroke-width="2.5"/>
<line x1="64.20" y1="281.85" x2="64.20" y2="297.80" stroke="#f89a12" stroke-width="2.5"/>
<line x1="65.40" y1="281.85" x2="65.40" y2="297.30" stroke="#f89a12" stroke-width="2.5"/>
<line x1="70.60" y1="281.85" x2="70.60" y2="276.40" stroke="#f89a12" stroke-width="2.5"/>
<line x1="73.00" y1="281.85" x2="73.00" y2="275.90" stroke="#f89a12" stroke-width="2.5"/>
<line x1="73.20" y1="281.85" x2="73.20" y2="285.90" stroke="#f89a12" stroke-width="2.5"/>
<line x1="76.50" y1="281.85" x2="76.50" y2="280.20" stroke="#f89a12" stroke-width="2.5"/>
<line x1="82.70" y1="281.85" x2="82.70" y2="270.90" stroke="#f89a12" stroke-width="2.5"/>
<line x1="84.40" y1="281.85" x2="84.40" y2="274.50" stroke="#f89a12" stroke-width="2.5"/>
<line x1="91.00" y1="281.85" x2="91.00" y2="250.70" stroke="#f89a12" stroke-width="2.5"/>
<line x1="92.20" y1="281.85" x2="92.20" y2="259.30" stroke="#f89a12" stroke-width="2.5"/>
<line x1="93.90" y1="281.85" x2="93.90" y2="265.70" stroke="#f89a12" stroke-width="2.5"/>
<line x1="97.70" y1="281.85" x2="97.70" y2="257.90" stroke="#f89a12" stroke-width="2.5"/>
<line x1="98.60" y1="281.85" x2="98.60" y2="266.40" stroke="#f89a12" stroke-width="2.5"/>
<line x1="100.80" y1="281.85" x2="100.80" y2="273.50" stroke="#f89a12" stroke-width="2.5"/>
<line x1="100.80" y1="281.85" x2="100.80" y2="284.70" stroke="#f89a12" stroke-width="2.5"/>
<line x1="105.50" y1="281.85" x2="105.50" y2="275.20" stroke="#f89a12" stroke-width="2.5"/>
<line x1="107.90" y1="281.85" x2="107.90" y2="277.10" stroke="#f89a12" stroke-width="2.5"/>
<line x1="108.40" y1="281.85" x2="108.40" y2="290.20" stroke="#f89a12" stroke-width="2.5"/>
<line x1="110.30" y1="281.85" x2="110.30" y2="298.20" stroke="#f89a12" stroke-width="2.5"/>
<line x1="112.60" y1="281.85" x2="112.60" y2="300.60" stroke="#f89a12" stroke-width="2.5"/>
<line x1="114.00" y1="281.85" x2="114.00" y2="301.60" stroke="#f89a12" stroke-width="2.5"/>
<line x1="115.50" y1="281.85" x2="115.50" y2="302.50" stroke="#f89a12" stroke-width="2.5"/>
<line x1="116.70" y1="281.85" x2="116.70" y2="312.70" stroke="#f89a12" stroke-width="2.5"/>
<line x1="125.20" y1="281.85" x2="125.20" y2="288.70" stroke="#f89a12" stroke-width="2.5"/>
<line x1="135.90" y1="281.85" x2="135.90" y2="264.50" stroke="#f89a12" stroke-width="2.5"/>
<line x1="136.90" y1="281.85" x2="136.90" y2="276.90" stroke="#f89a12" stroke-width="2.5"/>
<line x1="145.40" y1="281.85" x2="145.40" y2="264.00" stroke="#f89a12" stroke-width="2.5"/>
<line x1="150.20" y1="281.85" x2="150.20" y2="265.70" stroke="#f89a12" stroke-width="2.5"/>
<line x1="152.80" y1="281.85" x2="152.80" y2="275.20" stroke="#f89a12" stroke-width="2.5"/>
<line x1="155.60" y1="281.85" x2="155.60" y2="282.80" stroke="#f89a12" stroke-width="2.5"/>
<line x1="163.70" y1="281.85" x2="163.70" y2="270.00" stroke="#f89a12" stroke-width="2.5"/>
<line x1="163.70" y1="281.85" x2="163.70" y2="286.60" stroke="#f89a12" stroke-width="2.5"/>
<line x1="167.00" y1="281.85" x2="167.00" y2="291.30" stroke="#f89a12" stroke-width="2.5"/>
<line x1="178.90" y1="281.85" x2="178.90" y2="254.50" stroke="#f89a12" stroke-width="2.5"/>
<line x1="181.30" y1="281.85" x2="181.30" y2="262.60" stroke="#f89a12" stroke-width="2.5"/>
<line x1="183.20" y1="281.85" x2="183.20" y2="274.00" stroke="#f89a12" stroke-width="2.5"/>
<line x1="184.10" y1="281.85" x2="184.10" y2="283.00" stroke="#f89a12" stroke-width="2.5"/>
<line x1="187.20" y1="281.85" x2="187.20" y2="285.20" stroke="#f89a12" stroke-width="2.5"/>
<line x1="187.70" y1="281.85" x2="187.70" y2="303.00" stroke="#f89a12" stroke-width="2.5"/>
<line x1="191.90" y1="281.85" x2="191.90" y2="298.20" stroke="#f89a12" stroke-width="2.5"/>
<line x1="194.30" y1="281.85" x2="194.30" y2="304.40" stroke="#f89a12" stroke-width="2.5"/>
<line x1="197.90" y1="281.85" x2="197.90" y2="304.20" stroke="#f89a12" stroke-width="2.5"/>
<line x1="210.70" y1="281.85" x2="210.70" y2="266.20" stroke="#f89a12" stroke-width="2.5"/>
<line x1="212.40" y1="281.85" x2="212.40" y2="279.20" stroke="#f89a12" stroke-width="2.5"/>
<line x1="221.90" y1="281.85" x2="221.90" y2="272.10" stroke="#f89a12" stroke-width="2.5"/>
<line x1="249.90" y1="281.85" x2="249.90" y2="254.50" stroke="#f89a12" stroke-width="2.5"/>
<line x1="265.10" y1="281.85" x2="265.10" y2="270.90" stroke="#f89a12" stroke-width="2.5"/>
<line x1="277.70" y1="281.85" x2="277.70" y2="292.30" stroke="#f89a12" stroke-width="2.5"/>
<line x1="286.00" y1="281.85" x2="286.00" y2="314.40" stroke="#f89a12" stroke-width="2.5"/>
<line x1="338.90" y1="281.85" x2="338.90" y2="286.60" stroke="#f89a12" stroke-width="2.5"/>
<line x1="353.20" y1="281.85" x2="353.20" y2="278.30" stroke="#f89a12" stroke-width="2.5"/>
<line x1="386.40" y1="281.85" x2="386.40" y2="256.90" stroke="#f89a12" stroke-width="2.5"/>
<line x1="390.40" y1="281.85" x2="390.40" y2="283.50" stroke="#f89a12" stroke-width="2.5"/>
<line x1="403.50" y1="281.85" x2="403.50" y2="305.40" stroke="#f89a12" stroke-width="2.5"/>
<line x1="457.40" y1="281.85" x2="457.40" y2="276.40" stroke="#f89a12" stroke-width="2.5"/>
<line x1="481.90" y1="281.85" x2="481.90" y2="284.70" stroke="#f89a12" stroke-width="2.5"/>
<line x1="542.60" y1="281.85" x2="542.60" y2="275.00" stroke="#f89a12" stroke-width="2.5"/>
<circle cx="46.90" cy="241.20" r="1.35" fill="#1e0ea8"/>
<circle cx="47.10" cy="252.20" r="1.35" fill="#1e0ea8"/>
<circle cx="47.60" cy="262.60" r="1.35" fill="#1e0ea8"/>
<circle cx="48.30" cy="271.60" r="1.35" fill="#1e0ea8"/>
<circle cx="50.40" cy="301.30" r="1.35" fill="#1e0ea8"/>
<circle cx="51.60" cy="306.50" r="1.35" fill="#1e0ea8"/>
<circle cx="55.90" cy="302.00" r="1.35" fill="#1e0ea8"/>
<circle cx="59.70" cy="289.40" r="1.35" fill="#1e0ea8"/>
<circle cx="60.60" cy="299.00" r="1.35" fill="#1e0ea8"/>
<circle cx="61.40" cy="298.70" r="1.35" fill="#1e0ea8"/>
<circle cx="62.30" cy="298.20" r="1.35" fill="#1e0ea8"/>
<circle cx="63.30" cy="298.00" r="1.35" fill="#1e0ea8"/>
<circle cx="64.20" cy="297.80" r="1.35" fill="#1e0ea8"/>
<circle cx="65.40" cy="297.30" r="1.35" fill="#1e0ea8"/>
<circle cx="70.60" cy="276.40" r="1.35" fill="#1e0ea8"/>
<circle cx="73.00" cy="275.90" r="1.35" fill="#1e0ea8"/>
<circle cx="76.50" cy="280.20" r="1.35" fill="#1e0ea8"/>
<circle cx="82.70" cy="270.90" r="1.35" fill="#1e0ea8"/>
<circle cx="84.40" cy="274.50" r="1.35" fill="#1e0ea8"/>
<circle cx="91.00" cy="250.70" r="1.35" fill="#1e0ea8"/>
<circle cx="92.20" cy="259.30" r="1.35" fill="#1e0ea8"/>
<circle cx="93.90" cy="265.70" r="1.35" fill="#1e0ea8"/>
<circle cx="100.80" cy="273.50" r="1.35" fill="#1e0ea8"/>
<circle cx="105.50" cy="275.20" r="1.35" fill="#1e0ea8"/>
<circle cx="107.90" cy="277.10" r="1.35" fill="#1e0ea8"/>
<circle cx="108.40" cy="290.20" r="1.35" fill="#1e0ea8"/>
<circle cx="112.60" cy="300.60" r="1.35" fill="#1e0ea8"/>
<circle cx="114.00" cy="301.60" r="1.35" fill="#1e0ea8"/>
<circle cx="116.70" cy="312.70" r="1.35" fill="#1e0ea8"/>
<circle cx="125.20" cy="288.70" r="1.35" fill="#1e0ea8"/>
<circle cx="135.90" cy="264.50" r="1.35" fill="#1e0ea8"/>
<circle cx="136.90" cy="276.90" r="1.35" fill="#1e0ea8"/>
<circle cx="145.40" cy="264.00" r="1.35" fill="#1e0ea8"/>
<circle cx="150.20" cy="265.70" r="1.35" fill="#1e0ea8"/>
<circle cx="152.80" cy="275.20" r="1.35" fill="#1e0ea8"/>
<circle cx="155.60" cy="282.80" r="1.35" fill="#1e0ea8"/>
<circle cx="163.70" cy="286.60" r="1.35" fill="#1e0ea8"/>
<circle cx="167.00" cy="291.30" r="1.35" fill="#1e0ea8"/>
<circle cx="178.90" cy="254.50" r="1.35" fill="#1e0ea8"/>
<circle cx="183.20" cy="274.00" r="1.35" fill="#1e0ea8"/>
<circle cx="184.10" cy="283.00" r="1.35" fill="#1e0ea8"/>
<circle cx="187.20" cy="285.20" r="1.35" fill="#1e0ea8"/>
<circle cx="187.70" cy="303.00" r="1.35" fill="#1e0ea8"/>
<circle cx="194.30" cy="304.40" r="1.35" fill="#1e0ea8"/>
<circle cx="210.70" cy="266.20" r="1.35" fill="#1e0ea8"/>
<circle cx="212.40" cy="279.20" r="1.35" fill="#1e0ea8"/>
<circle cx="221.90" cy="272.10" r="1.35" fill="#1e0ea8"/>
<circle cx="249.90" cy="254.50" r="1.35" fill="#1e0ea8"/>
<circle cx="265.10" cy="270.90" r="1.35" fill="#1e0ea8"/>
<circle cx="277.70" cy="292.30" r="1.35" fill="#1e0ea8"/>
<circle cx="286.00" cy="314.40" r="1.35" fill="#1e0ea8"/>
<circle cx="338.90" cy="286.60" r="1.35" fill="#1e0ea8"/>
<circle cx="353.20" cy="278.30" r="1.35" fill="#1e0ea8"/>
<circle cx="386.40" cy="256.90" r="1.35" fill="#1e0ea8"/>
<circle cx="390.40" cy="283.50" r="1.35" fill="#1e0ea8"/>
<circle cx="403.50" cy="305.40" r="1.35" fill="#1e0ea8"/>
<circle cx="457.40" cy="276.40" r="1.35" fill="#1e0ea8"/>
<circle cx="481.90" cy="284.70" r="1.35" fill="#1e0ea8"/>
<circle cx="45.90" cy="237.90" r="1.35" fill="#28b428"/>
<circle cx="49.20" cy="278.80" r="1.35" fill="#28b428"/>
<circle cx="50.40" cy="288.70" r="1.35" fill="#28b428"/>
<circle cx="100.80" cy="284.70" r="1.35" fill="#28b428"/>
<circle cx="181.30" cy="262.60" r="1.35" fill="#28b428"/>
<circle cx="197.90" cy="304.20" r="1.35" fill="#28b428"/>
<circle cx="542.60" cy="275.00" r="1.35" fill="#28b428"/>
<circle cx="73.20" cy="285.90" r="1.35" fill="#e01010"/>
<circle cx="97.70" cy="257.90" r="1.35" fill="#e01010"/>
<circle cx="98.60" cy="266.40" r="1.35" fill="#e01010"/>
<circle cx="110.30" cy="298.20" r="1.35" fill="#e01010"/>
<circle cx="115.50" cy="302.50" r="1.35" fill="#e01010"/>
<circle cx="163.70" cy="270.00" r="1.35" fill="#e01010"/>
<circle cx="191.90" cy="298.20" r="1.35" fill="#e01010"/>
<text x="42.8" y="312.05" text-anchor="end"  font-size="10" fill="#161616">−0.02</text>
<text x="42.8" y="285.45" text-anchor="end"  font-size="10" fill="#161616">0</text>
<text x="42.8" y="258.85" text-anchor="end"  font-size="10" fill="#161616">0.02</text>
<text transform="translate(12.4,278.0) rotate(-90)" text-anchor="middle"  font-size="13.5" fill="#161616">Error</text>
<text x="294.5" y="330.4" text-anchor="middle"  font-size="13.5" fill="#161616">Mileage (km)</text>
<rect x="418.4" y="243.4" width="114.3" height="14.1" fill="#fff" stroke="#444" stroke-width="1.2"/>
<circle cx="439.5" cy="250.5" r="1.2" fill="#1a00c8"/>
<text x="461.3" y="253.6"  font-size="8.8" fill="#161616">Targets - Outputs</text>
</svg>
</body></html>
